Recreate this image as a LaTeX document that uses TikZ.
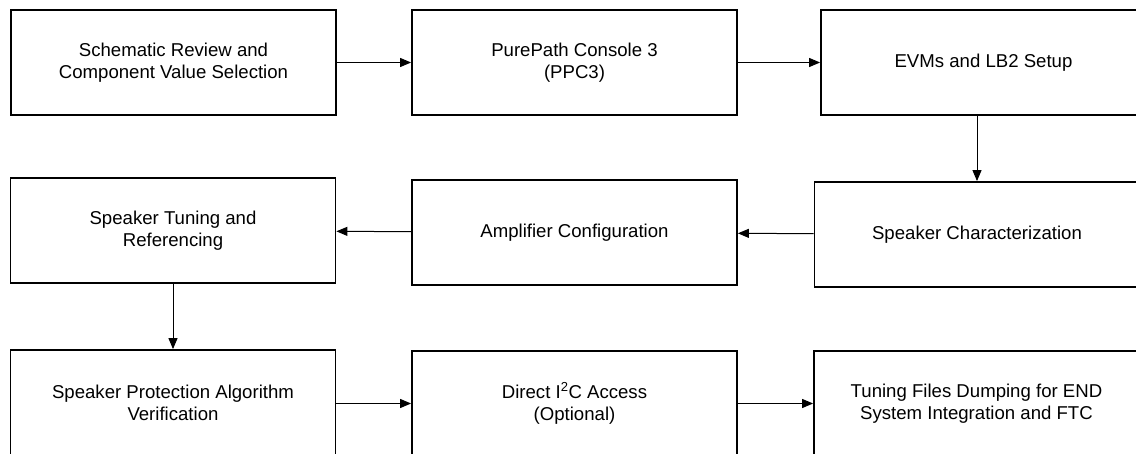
\documentclass[tikz,border=0pt]{standalone}
\usepackage{fontspec}
\setmainfont{Liberation Sans}
\usetikzlibrary{arrows.meta}

\begin{document}
\begin{tikzpicture}[
  x=1pt, y=-1pt,
  block/.style={rectangle, draw, line width=1.8pt, minimum width=325pt, minimum height=105pt, inner sep=0pt, align=center, font=\fontsize{18.6}{22}\selectfont},
  flow/.style={line width=1pt, -{Triangle[length=11pt,width=9pt]}}
]
\useasboundingbox (0,0) rectangle (1136,454);
\clip (0,0) rectangle (1136,454);

\node[block] (schem) at (173.5,62.5) {Schematic Review and\\Component Value Selection};
\node[block] (ppc) at (574.5,62.5) {PurePath Console 3\\(PPC3)};
\node[block] (evm) at (983.5,62.5) {EVMs and LB2 Setup};

\node[block] (tuning) at (173,230.5) {Speaker Tuning and\\Referencing};
\node[block] (amp) at (574.5,232.5) {Amplifier Configuration};
\node[block] (charac) at (977,234.5) {Speaker Characterization};

\node[block] (protect) at (173,402.5) {Speaker Protection Algorithm\\Verification};
\node[block] (itwoc) at (574.5,403.5) {Direct I\textsuperscript{2}C Access\\(Optional)};
\node[block] (dump) at (976.5,403.5) {Tuning Files Dumping for END\\System Integration and FTC};

% Arrows
\draw[flow] (schem) -- (ppc);
\draw[flow] (ppc) -- (evm);
\draw[flow] (charac.north |- evm.south) -- (charac.north);
\draw[flow] (charac) -- (amp);
\draw[flow] (amp) -- (tuning);
\draw[flow] (tuning) -- (protect);
\draw[flow] (protect.east |- itwoc.west) -- (itwoc);
\draw[flow] (itwoc) -- (dump);

\end{tikzpicture}
\end{document}
